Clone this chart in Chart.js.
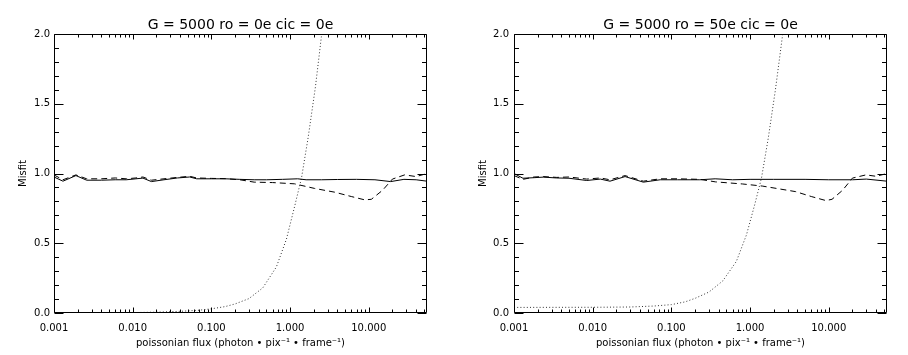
<!DOCTYPE html>
<html><head><meta charset="utf-8">
<script src="https://cdn.jsdelivr.net/npm/chart.js@4"></script>
<style>
html,body{margin:0;padding:0;background:#fff;}
#wrap{position:relative;width:908px;height:355px;overflow:hidden;}
.c{position:absolute;top:0;width:454px;height:355px;}
canvas{display:block;}
</style></head><body>
<div id="wrap">
<div class="c" style="left:0"><canvas id="c1" width="454" height="355" style="width:454px;height:355px"></canvas></div>
<div class="c" style="left:454px"><canvas id="c2" width="454" height="355" style="width:454px;height:355px"></canvas></div>
</div>
<script>
// ---- tick labels / axis texts ----
const xTickValues = [0.001, 0.01, 0.1, 1, 10];
const yTickValues = [0, 0.5, 1, 1.5, 2];
const titleLeft = 'G = 5000 ro = 0e cic = 0e';
const titleRight = 'G = 5000 ro = 50e cic = 0e';
const xAxisTitle = 'poissonian flux (photon \u2022 pix\u207B\u00B9 \u2022 frame\u207B\u00B9)';
const yAxisTitle = 'Misfit';

// ---- left panel (ro = 0e) ----
const fluxSolidL  = [0.001,0.0013,0.0019,0.0026,0.004,0.006,0.0083,0.011,0.0135,0.0173,0.025,0.037,0.053,0.065,0.1,0.15,0.23,0.35,0.5,0.8,1.25,1.6,2.5,4,7,12,19,28,40,55];
const misfitSolidL= [0.975,0.945,0.985,0.952,0.952,0.955,0.955,0.962,0.967,0.942,0.955,0.968,0.975,0.962,0.962,0.962,0.958,0.955,0.955,0.958,0.962,0.955,0.955,0.957,0.958,0.955,0.942,0.958,0.955,0.945];
const fluxDashL   = [0.001,0.0013,0.0019,0.0026,0.004,0.006,0.0083,0.011,0.0135,0.0173,0.025,0.037,0.053,0.065,0.1,0.15,0.23,0.35,0.6,1.14,2.05,3.7,6,8.9,10.8,15,20,28.6,40,55];
const misfitDashL = [0.99,0.955,0.99,0.962,0.962,0.968,0.962,0.968,0.975,0.952,0.962,0.972,0.98,0.968,0.965,0.963,0.955,0.938,0.935,0.926,0.893,0.866,0.835,0.811,0.815,0.88,0.96,0.99,0.978,1.0];
const fluxDotL    = [0.001,0.01,0.02,0.04,0.07,0.1,0.15,0.2,0.3,0.45,0.67,0.9,1.15,1.4,1.7,2.1,2.5,3.0];
const misfitDotL  = [0.0003,0.003,0.006,0.012,0.02,0.03,0.046,0.065,0.103,0.18,0.33,0.53,0.77,0.97,1.26,1.62,1.98,2.4];

// ---- right panel (ro = 50e) ----
const fluxSolidR  = [0.001,0.0013,0.0018,0.00235,0.0035,0.005,0.0084,0.0125,0.0166,0.0258,0.044,0.072,0.12,0.23,0.36,0.6,1.0,2,5,10,20,30,55];
const misfitSolidR= [1.0,0.966,0.97,0.974,0.968,0.966,0.95,0.96,0.945,0.978,0.938,0.955,0.955,0.955,0.962,0.955,0.958,0.958,0.958,0.955,0.955,0.96,0.945];
const fluxDashR   = [0.001,0.0013,0.0018,0.00235,0.0035,0.005,0.0084,0.0125,0.0166,0.0258,0.044,0.072,0.12,0.23,0.363,0.8,1.43,3.8,6,9.2,11,15,20,29.7,40,55];
const misfitDashR = [0.985,0.958,0.975,0.978,0.972,0.975,0.96,0.968,0.955,0.985,0.945,0.962,0.962,0.958,0.94,0.925,0.91,0.87,0.835,0.806,0.815,0.88,0.967,0.99,0.98,1.0];
const fluxDotR    = [0.001,0.01,0.03,0.06,0.1,0.15,0.2,0.3,0.45,0.67,0.9,1.15,1.4,1.7,2.1,2.6,3.0];
const misfitDotR  = [0.04,0.041,0.043,0.05,0.06,0.08,0.105,0.15,0.23,0.37,0.56,0.78,0.97,1.25,1.6,2.0,2.35];

Chart.defaults.font.family = "'DejaVu Sans', sans-serif";
Chart.defaults.color = '#000';

function pts(xs, ys){ return xs.map((x,i)=>({x:x, y:ys[i]})); }

const framePlugin = {
  id: 'frame',
  afterDatasetsDraw(chart, args, opts){
    const {ctx, chartArea:{left,right,top,bottom}, scales:{x,y}} = chart;
    ctx.save();
    ctx.strokeStyle = '#000';
    ctx.lineWidth = 1;
    const L = Math.round(left)+0.5, R = Math.round(right)-0.5, T = Math.round(top)+0.5, B = Math.round(bottom)-0.5;
    ctx.beginPath();
    ctx.rect(L, T, R-L, B-T);
    for (let i=0;i<=20;i++){
      const v = i/10;
      const py = Math.round(y.getPixelForValue(v))+0.5;
      const len = (i%5===0) ? 9 : 4.5;
      ctx.moveTo(L, py); ctx.lineTo(L+len, py);
      ctx.moveTo(R, py); ctx.lineTo(R-len, py);
    }
    for (let d=-3; d<=1; d++){
      for (let m=1; m<=9; m++){
        const v = m*Math.pow(10,d);
        if (v < x.min*0.9999 || v > x.max) continue;
        const px = Math.round(x.getPixelForValue(v))+0.5;
        const len = (m===1) ? 5 : 3;
        ctx.moveTo(px, B); ctx.lineTo(px, B-len);
        ctx.moveTo(px, T); ctx.lineTo(px, T+len);
      }
    }
    ctx.stroke();
    // title centred over the plot area
    ctx.fillStyle = '#000';
    ctx.font = "14px 'DejaVu Sans', sans-serif";
    ctx.textAlign = 'center';
    ctx.textBaseline = 'middle';
    ctx.fillText(opts.text, (left+right)/2, 25);
    ctx.restore();
  }
};

function makeChart(id, title, series, geo){
  const ds = [
    {data: pts(series[0][0], series[0][1]), borderDash: []},
    {data: pts(series[1][0], series[1][1]), borderDash: [6,4]},
    {data: pts(series[2][0], series[2][1]), borderDash: [1,2.2], borderColor:'#333'}
  ].map(d=>Object.assign({borderColor:'#000', borderWidth:1, pointRadius:0, tension:0, fill:false}, d));
  return new Chart(document.getElementById(id), {
    type: 'line',
    data: {datasets: ds},
    plugins: [framePlugin],
    options: {
      responsive:false, animation:false, devicePixelRatio:1,
      layout:{padding:{left:0, right:geo.padRight, top:34, bottom:0}},
      plugins:{
        legend:{display:false}, tooltip:{enabled:false},
        title:{display:false},
        frame:{text:title}
      },
      scales:{
        x:{
          type:'logarithmic', min:0.001, max:55,
          grid:{display:false, drawTicks:false}, border:{display:false},
          afterBuildTicks: s => { s.ticks = xTickValues.map(v=>({value:v})); },
          afterFit: s => { s.height = geo.xHeight; },
          ticks:{autoSkip:false, maxRotation:0, padding:9, font:{size:10}, color:'#000',
                 callback: v => Number(v).toFixed(3)},
          title:{display:true, text:xAxisTitle, font:{size:10}, color:'#000', padding:{top:0,bottom:6}}
        },
        y:{
          min:0, max:2,
          grid:{display:false, drawTicks:false}, border:{display:false},
          afterBuildTicks: s => { s.ticks = yTickValues.map(v=>({value:v})); },
          afterFit: s => { s.width = geo.yWidth; },
          ticks:{padding:geo.yTickPad, font:{size:10}, color:'#000', callback: v => Number(v).toFixed(1)},
          title:{display:true, text:yAxisTitle, font:{size:10}, color:'#000', padding:{top:geo.yTitlePad, bottom:0}}
        }
      }
    }
  });
}

makeChart('c1', titleLeft,
  [[fluxSolidL, misfitSolidL],[fluxDashL, misfitDashL],[fluxDotL, misfitDotL]],
  {yWidth:54, padRight:27, xHeight:42, yTickPad:4, yTitlePad:17});
makeChart('c2', titleRight,
  [[fluxSolidR, misfitSolidR],[fluxDashR, misfitDashR],[fluxDotR, misfitDotR]],
  {yWidth:60, padRight:21, xHeight:42, yTickPad:5, yTitlePad:23});
</script>
</body></html>
